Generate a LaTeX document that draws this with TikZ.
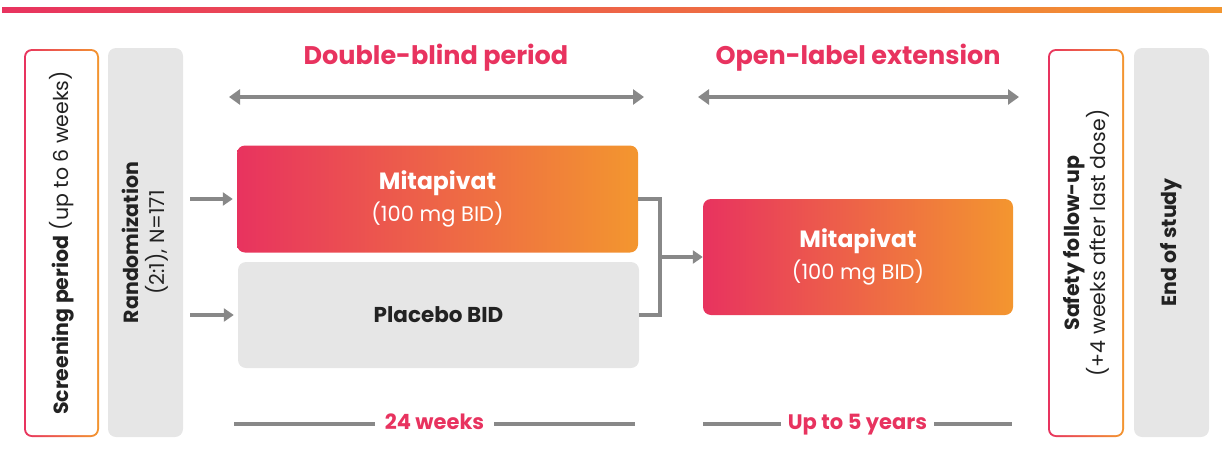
\documentclass[tikz,border=0pt]{standalone}
\usepackage{fontspec}
\setmainfont{Poppins}
\usetikzlibrary{arrows.meta, positioning}
\definecolor{brandpink}{HTML}{E8335F}
\definecolor{brandmid}{HTML}{EA4C57}
\definecolor{brandorange}{HTML}{F3962F}
\definecolor{boxgray}{HTML}{E6E6E6}
\definecolor{linegray}{HTML}{888888}
\definecolor{textdark}{HTML}{222222}

\begin{document}
\begin{tikzpicture}[
    x=1pt, y=-1pt,
    gradbox/.style={rounded corners=8pt, left color=brandpink, middle color=brandmid, right color=brandorange, inner sep=0pt, text=white},
    graybox/.style={rounded corners=8pt, fill=boxgray, inner sep=0pt, text=textdark},
    sidetext/.style={rotate=90, align=center, text=textdark, font=\fontsize{20.5}{26}\selectfont},
    title/.style={text=brandpink, font=\bfseries\fontsize{25.5}{28}\selectfont},
    duration/.style={midway, fill=white, text=brandpink, text height=15pt, text depth=5pt,
      font=\bfseries\fontsize{21}{24}\selectfont},
    arrow/.style={-{Triangle[length=10pt,width=13pt]}, line width=4.5pt, draw=linegray},
    span/.style={{Triangle[length=11pt,width=15pt]}-{Triangle[length=11pt,width=15pt]}, line width=4pt, draw=linegray},
    bar/.style={line width=4.5pt, draw=linegray}
]
\useasboundingbox (0,0) rectangle (1222,466);

% Top band
\shade[left color=brandpink, middle color=brandmid, right color=brandorange] (2,7) rectangle (1222,12);

% Side columns
\node (scr) [gradbox, minimum width=75pt, minimum height=388pt] at (61.5,243) {};
\node (scrin) [fill=white, rounded corners=6pt, minimum width=71pt, minimum height=384pt] at (scr) {};
\node (scrtext) [sidetext] at (scr) {\textbf{Screening period} (up to 6 weeks)};

\node (rnd) [graybox, minimum width=75pt, minimum height=389pt] at (145.5,242.5) {};
\node (rndtext) [sidetext] at (rnd) {\textbf{Randomization}\\(2:1), N=171};

\node (saf) [gradbox, minimum width=76pt, minimum height=388pt] at (1086,243) {};
\node (safin) [fill=white, rounded corners=6pt, minimum width=72pt, minimum height=384pt] at (saf) {};
\node (saftext) [sidetext] at (saf) {\textbf{Safety follow-up}\\(+4 weeks after last dose)};

\node (eos) [graybox, minimum width=75pt, minimum height=389pt] at (1171.5,242.5) {};
\node (eostext) [sidetext] at (eos) {\textbf{End of study}};

% Treatment arms
\node (mit1) [gradbox, minimum width=401pt, minimum height=107pt, align=center,
  font=\fontsize{23.5}{32}\selectfont] at (437.5,199)
  {\textbf{Mitapivat}\\{\fontsize{21}{24}\selectfont (100 mg BID)}};
\node (plc) [graybox, minimum width=401pt, minimum height=106pt,
  font=\bfseries\fontsize{21.5}{24}\selectfont] at (438.5,315) {Placebo BID};
\node (mit2) [gradbox, minimum width=310pt, minimum height=116pt, align=center,
  font=\fontsize{23.5}{32}\selectfont] at (858,257)
  {\textbf{Mitapivat}\\{\fontsize{21}{24}\selectfont (100 mg BID)}};

% Period titles
\node (dbt) [title] at (436,58) {Double-blind period};
\node (olt) [title] at (858,58) {Open-label extension};

\coordinate (dbL) at (229,97);
\coordinate (dbR) at (644,97);
\coordinate (olL) at (698,97);
\coordinate (olR) at (1019,97);
\draw[span] (dbL) -- (dbR);
\draw[span] (olL) -- (olR);

% Arrows
\draw[arrow, shorten >=4pt] ([xshift=7pt]rnd.east |- mit1.west) -- (mit1.west);
\draw[arrow, shorten >=4pt] ([xshift=7pt]rnd.east |- plc.west) -- (plc.west);
\coordinate (join) at (660,257);
\draw[line width=4pt, draw=linegray, line join=miter] (mit1.east) -| (join) |- (plc.east);
\draw[arrow] (join) -- (mit2.west);

% Durations
\coordinate (wkL) at (234,424);
\coordinate (wkR) at (635,424);
\coordinate (yrL) at (703,424);
\coordinate (yrR) at (1012,424);
\draw[bar] (wkL) -- (wkR) node[duration, inner xsep=10pt] (wk) {24 weeks};
\draw[bar] (yrL) -- (yrR) node[duration, inner xsep=7pt] (yr) {Up to 5 years};

\end{tikzpicture}
\end{document}
